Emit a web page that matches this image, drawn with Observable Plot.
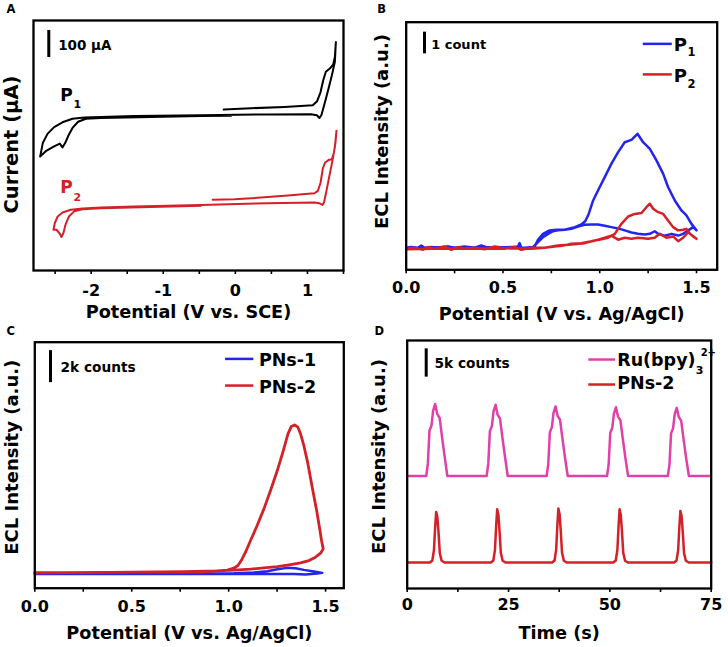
<!DOCTYPE html>
<html><head><meta charset="utf-8">
<script src="https://cdn.jsdelivr.net/npm/d3@7"></script>
<script src="https://cdn.jsdelivr.net/npm/@observablehq/plot@0.6"></script>
<style>
html,body{margin:0;padding:0;background:#fff;}
#wrap{position:relative;width:728px;height:647px;overflow:hidden;background:#fff;}
.pan{position:absolute;}
</style></head>
<body><div id="wrap"></div>
<script>
// ---------- Panel A: cyclic voltammograms (V vs. SCE, current offset in µA) ----------
const aTicks = [-2.5, -2, -1.5, -1, -0.5, 0, 0.5, 1, 1.5];
const aTickLabels = ["", "-2", "", "-1", "", "0", "", "1", ""];
const p1CV = [[-0.162,596],[0.218,601],[0.681,606],[1.074,612],[1.134,627],[1.181,660],[1.218,704],[1.255,736],[1.310,748],[1.356,762],[1.380,790],[1.394,846],
  [1.380,772],[1.338,722],[1.292,673],[1.236,617],[1.194,576],[1.167,565],[1.130,575],[1.051,579],[0.449,578],[-0.477,575],[-1.403,572],[-1.866,569],[-2.097,567],[-2.259,562],[-2.398,549],[-2.514,531],[-2.606,506],[-2.671,472],[-2.708,422],
  [-2.630,442],[-2.514,460],[-2.435,470],[-2.398,456],[-2.361,472],[-2.315,500],[-2.259,528],[-2.181,551],[-2.074,562],[-1.866,565],[-1.171,569],[-0.477,572],[-0.06,573]];
const p2CV = [[-0.315,262],[-0.014,264],[0.356,270],[0.727,278],[1.097,286],[1.144,295],[1.181,324],[1.213,377],[1.245,400],[1.292,409],[1.338,412],[1.366,435],[1.389,475],[1.403,518],
  [1.380,457],[1.347,407],[1.310,358],[1.264,296],[1.231,253],[1.208,243],[1.167,249],[1.097,252],[0.449,249],[-0.477,243],[-1.403,237],[-1.866,233],[-2.120,230],[-2.282,225],[-2.398,215],[-2.468,199],[-2.505,175],[-2.523,151],
  [-2.481,151],[-2.440,138],[-2.412,124],[-2.384,140],[-2.352,173],[-2.306,201],[-2.236,219],[-2.120,227],[-1.866,231],[-1.171,235],[-0.477,240]];

// ---------- Panel B: ECL–potential of P1 / P2 (counts) ----------
const bTicks = [0, 0.25, 0.5, 0.75, 1, 1.25, 1.5];
const bTickLabels = ["0.0", "", "0.5", "", "1.0", "", "1.5"];
const p1ECL = [[0,1.02],[0.026,1.05],[0.060,1.02],[0.078,1.12],[0.095,1.02],[0.129,1.05],[0.181,1.02],[0.216,1.08],[0.25,1.02],[0.302,1.08],[0.353,1.02],[0.388,1.12],[0.422,1.02],[0.474,1.05],[0.526,1.02],[0.578,1.08],[0.586,1.23],[0.595,1.02],[0.647,1.02],[0.664,1.08],
  [0.681,1.38],[0.707,1.66],[0.741,1.82],[0.776,1.85],[0.819,1.85],[0.871,1.97],[0.905,2.09],[0.926,2.25],[0.943,2.58],[0.966,3.2],[0.991,3.66],[1.026,4.28],[1.060,4.89],[1.095,5.43],[1.129,5.89],[1.164,6.0],[1.195,6.28],[1.224,5.89],[1.259,5.58],[1.293,5.05],[1.328,4.43],[1.353,3.82],[1.388,3.2],[1.422,2.74],[1.448,2.51],[1.474,2.12],[1.5,1.82],
  [1.483,1.97],[1.457,1.82],[1.431,1.66],[1.405,1.58],[1.371,1.66],[1.336,1.57],[1.302,1.66],[1.284,1.78],[1.259,1.66],[1.233,1.63],[1.198,1.66],[1.164,1.72],[1.129,1.82],[1.095,1.91],[1.060,1.97],[1.026,2.03],[0.991,2.09],[0.957,2.09],[0.922,2.08],[0.888,2.0],[0.853,1.89],[0.819,1.85],[0.784,1.82],[0.759,1.78],[0.733,1.66],[0.707,1.51],[0.681,1.28],[0.655,1.05],[0.612,1.02],[0.543,1.05],[0.474,1.02],[0.40,1.05],[0.30,1.02],[0.20,1.05],[0.10,1.02],[0,1.02]];
const p2ECL = [[0,0.97],[0.043,1.02],[0.086,0.92],[0.112,1.05],[0.147,0.97],[0.198,1.08],[0.233,0.92],[0.267,1.05],[0.302,0.97],[0.353,1.02],[0.405,0.95],[0.457,1.08],[0.509,0.97],[0.560,1.05],[0.595,0.92],[0.647,1.02],[0.716,1.02],[0.784,1.12],[0.853,1.17],[0.922,1.23],[0.991,1.38],[1.043,1.48],[1.078,1.66],[1.112,2.12],[1.147,2.46],[1.181,2.58],[1.216,2.62],[1.241,2.89],[1.259,3.05],[1.276,2.82],[1.302,2.66],[1.328,2.58],[1.353,2.28],[1.379,1.97],[1.405,1.82],[1.431,1.85],[1.448,1.89],[1.466,1.66],[1.5,1.43],
  [1.483,1.54],[1.457,1.74],[1.431,1.48],[1.405,1.32],[1.379,1.54],[1.345,1.48],[1.310,1.66],[1.284,1.48],[1.25,1.43],[1.198,1.48],[1.164,1.43],[1.129,1.48],[1.095,1.39],[1.060,1.58],[1.026,1.48],[0.991,1.39],[0.957,1.32],[0.905,1.23],[0.853,1.2],[0.819,1.12],[0.767,1.08],[0.716,1.02],[0.647,0.97],[0.560,1.0],[0.474,0.97],[0.302,0.98],[0.129,0.97],[0,0.95]];

// ---------- Panel C: ECL–potential of PNs-1 / PNs-2 (counts) ----------
const cTicks = [0, 0.25, 0.5, 0.75, 1, 1.25, 1.5];
const cTickLabels = ["0.0", "", "0.5", "", "1.0", "", "1.5"];
const pns1ECL = [[0,915],[0.511,915],[1.027,930],[1.130,985],[1.199,1062],[1.251,1187],[1.302,1271],[1.345,1250],[1.388,1146],[1.440,1042],[1.483,958],[1.457,917],[1.397,860],[1.337,880],[1.285,885],[1.199,890],[1.027,895],[0.511,895],[0,895]];
const pns2ECL = [[0,958],[0.167,979],[0.511,1000],[0.855,1000],[0.993,1125],[1.027,1250],[1.048,1416],[1.065,1729],[1.087,2250],[1.113,2979],[1.147,3916],[1.182,4958],[1.216,6103],[1.251,7353],[1.282,8603],[1.306,9644],[1.323,10103],[1.340,10207],[1.357,10061],[1.371,9644],[1.388,8915],[1.409,7770],[1.431,6311],[1.454,4853],[1.471,3604],[1.479,2979],[1.488,2458],
  [1.474,2187],[1.448,1937],[1.414,1729],[1.371,1583],[1.319,1479],[1.251,1354],[1.182,1271],[1.113,1187],[1.027,1125],[0.941,1083],[0.769,1042],[0.511,1000],[0.253,979],[0,979]];

// ---------- Panel D: ECL–time (counts) ----------
const dTicks = [0, 12.5, 25, 37.5, 50, 62.5, 75];
const dTickLabels = ["0", "", "25", "", "50", "", "75"];
const rubpyTime = [[0,19870],
  [4.7,19870],[5.1,22050],[5.5,27900],[6.0,28800],[6.4,31400],[6.9,32600],[7.4,30850],[8.0,30150],[8.6,26750],[9.2,23500],[9.9,19870],
  [19.6,19870],[20.0,22000],[20.4,27800],[20.9,28700],[21.3,31300],[21.8,32450],[22.3,30700],[22.9,30000],[23.5,26600],[24.1,23400],[24.8,19870],
  [34.4,19870],[34.8,21950],[35.2,27600],[35.7,28500],[36.1,31000],[36.6,32150],[37.1,30500],[37.7,29800],[38.3,26500],[38.9,23300],[39.6,19870],
  [49.3,19870],[49.7,21900],[50.1,27500],[50.6,28400],[51.0,30900],[51.5,32000],[52.0,30400],[52.6,29700],[53.2,26400],[53.8,23200],[54.5,19870],
  [64.3,19870],[64.7,21850],[65.1,27400],[65.6,28300],[66.0,30800],[66.5,31900],[67.0,30300],[67.6,29600],[68.2,26300],[68.8,23100],[69.5,19870],
  [74.6,19870]];
const pns2Time = [[0,4586],
  [5.6,4586],[6.2,4950],[6.6,6750],[6.9,10900],[7.15,13520],[7.45,12600],[7.75,9700],[8.05,6200],[8.5,4900],[9.2,4586],
  [20.65,4586],[21.25,4950],[21.65,6800],[21.95,11100],[22.2,13990],[22.5,13000],[22.8,9900],[23.1,6300],[23.55,4900],[24.25,4586],
  [35.75,4586],[36.35,4950],[36.75,6850],[37.05,11200],[37.3,14110],[37.6,13100],[37.9,10000],[38.2,6300],[38.65,4900],[39.35,4586],
  [50.85,4586],[51.45,4950],[51.85,6800],[52.15,11100],[52.4,13990],[52.7,13000],[53.0,9900],[53.3,6300],[53.75,4900],[54.45,4586],
  [65.85,4586],[66.45,4950],[66.85,6750],[67.15,11000],[67.4,13700],[67.7,12800],[68.0,9800],[68.3,6250],[68.75,4900],[69.45,4586],
  [75,4586]];

// ---------- helpers ----------
const FONT = "'DejaVu Sans', 'Liberation Sans', Arial, sans-serif";
const BLACK = "#000", RED = "#d42027", BLUE = "#2424f0", PINK = "#e040a8";

function panel(left, top, opts) {
  const svg = Plot.plot({...opts, style: {fontFamily: FONT, fontWeight: "bold", fontSize: "16px", color: "#000", background: "transparent", overflow: "visible"}});
  const d = document.createElement("div");
  d.className = "pan"; d.style.left = left + "px"; d.style.top = top + "px";
  d.appendChild(svg);
  document.getElementById("wrap").appendChild(d);
}
function xAxis(ticks, labels, pad) {
  const m = new Map(ticks.map((t, i) => [t, labels[i]]));
  return Plot.axisX({ticks, tickFormat: d => m.get(d) ?? "", tickSize: 4, tickPadding: pad, label: null, strokeWidth: 1.6, fontSize: 16});
}
function curve(pts, color, w) {
  return Plot.line(pts, {x: d => d[0], y: d => d[1], stroke: color, strokeWidth: w, strokeLinejoin: "round", strokeLinecap: "round"});
}
function note(x, y, t, size, color = "#000") {
  return Plot.text([{x, y, t}], {x: "x", y: "y", text: "t", fontSize: size, fill: color, textAnchor: "start", lineAnchor: "bottom"});
}
function bar(x, y1, y2) {
  return Plot.ruleX([{x, y1, y2}], {x: "x", y1: "y1", y2: "y2", stroke: "#000", strokeWidth: 3});
}
function key(x1, x2, y, color) {
  return Plot.ruleY([{y, x1, x2}], {y: "y", x1: "x1", x2: "x2", stroke: color, strokeWidth: 2.5});
}
function xTitle(t, dy) {
  return Plot.text([t], {frameAnchor: "bottom", dy, textAnchor: "middle", lineAnchor: "bottom", fontSize: 17.7});
}
function yTitle(t, dx, dy, size = 18) {
  return Plot.text([t], {frameAnchor: "left", rotate: -90, dx, dy, textAnchor: "middle", lineAnchor: "middle", fontSize: size});
}
function letter(t, dx, dy) {
  return Plot.text([t], {frameAnchor: "top-left", dx, dy, textAnchor: "start", lineAnchor: "bottom", fontSize: 11.5});
}
const FRAME = () => Plot.frame({stroke: "#000", strokeWidth: 2.3});

// ---------- Panel A ----------
panel(0, 0, {
  width: 364, height: 330, marginLeft: 33, marginRight: 21, marginTop: 20, marginBottom: 60,
  x: {domain: [-2.8, 1.5]}, y: {domain: [0, 926], axis: null},
  marks: [
    xAxis(aTicks, aTickLabels, 10),
    curve(p1CV, BLACK, 2), curve(p2CV, RED, 2),
    FRAME(),
    bar(-2.588, 789, 889), note(-2.458, 815, "100 µA", 13.5),
    note(-2.43, 629, "P", 17), note(-2.245, 603, "1", 11),
    note(-2.43, 286, "P", 17, RED), note(-2.245, 259, "2", 11, RED),
    xTitle("Potential (V vs. SCE)", 47),
    yTitle("Current (µA)", -22, -1, 19.5),
    letter("A", -27, -7.3)
  ]
});

// ---------- Panel B ----------
panel(364, 0, {
  width: 364, height: 330, marginLeft: 41.7, marginRight: 11.3, marginTop: 21.7, marginBottom: 60.7,
  x: {domain: [0, 1.607]}, y: {domain: [0, 11.43], axis: null},
  marks: [
    xAxis(bTicks, bTickLabels, 8),
    curve(p1ECL, BLUE, 2.5), curve(p2ECL, RED, 2.5),
    FRAME(),
    bar(0.0946, 9.97, 10.97), note(0.129, 10.2, "1 count", 13),
    key(1.225, 1.375, 10.43, BLUE), note(1.383, 10.12, "P", 18), note(1.453, 9.85, "1", 11.5),
    key(1.225, 1.375, 9.02, RED), note(1.383, 8.69, "P", 18), note(1.453, 8.37, "2", 11.5),
    xTitle("Potential (V vs. Ag/AgCl)", 50),
    yTitle("ECL Intensity (a.u.)", -23.5, -14.5),
    letter("B", -29, -9)
  ]
});

// ---------- Panel C ----------
panel(0, 325, {
  width: 364, height: 322, marginLeft: 34.3, marginRight: 20.7, marginTop: 16.7, marginBottom: 59.3,
  x: {domain: [0, 1.594]}, y: {domain: [0, 15375], axis: null},
  marks: [
    xAxis(cTicks, cTickLabels, 8.5),
    curve(pns1ECL, BLUE, 2.5), curve(pns2ECL, RED, 2.8),
    FRAME(),
    bar(0.081, 12850, 14850), note(0.133, 13498, "2k counts", 13.7),
    key(0.984, 1.130, 14331, BLUE), note(1.156, 13914, "PNs-1", 17.5),
    key(0.984, 1.130, 12665, RED), note(1.156, 12206, "PNs-2", 17.5),
    xTitle("Potential (V vs. Ag/AgCl)", 50.6),
    yTitle("ECL Intensity (a.u.)", -22.8, -8),
    letter("C", -28.3, -7.7)
  ]
});

// ---------- Panel D ----------
panel(364, 325, {
  width: 364, height: 322, marginLeft: 42.7, marginRight: 17.3, marginTop: 15, marginBottom: 59,
  x: {domain: [0, 75]}, y: {domain: [0, 43800], axis: null},
  marks: [
    xAxis(dTicks, dTickLabels, 6),
    curve(rubpyTime, PINK, 2.5), curve(pns2Time, RED, 2.5),
    FRAME(),
    bar(4.69, 37330, 42330), note(6.74, 38926, "5k counts", 13.7),
    key(44.8, 51.4, 40441, PINK), note(51.8, 39258, "Ru(bpy)", 17.5), note(71.2, 37916, "3", 11), note(72.4, 41148, "2+", 10),
    key(44.8, 51.4, 36026, RED), note(51.8, 35267, "PNs-2", 17.5),
    xTitle("Time (s)", 50),
    yTitle("ECL Intensity (a.u.)", -27.8, -8),
    letter("D", -32.7, -6)
  ]
});
</script>
</body></html>
